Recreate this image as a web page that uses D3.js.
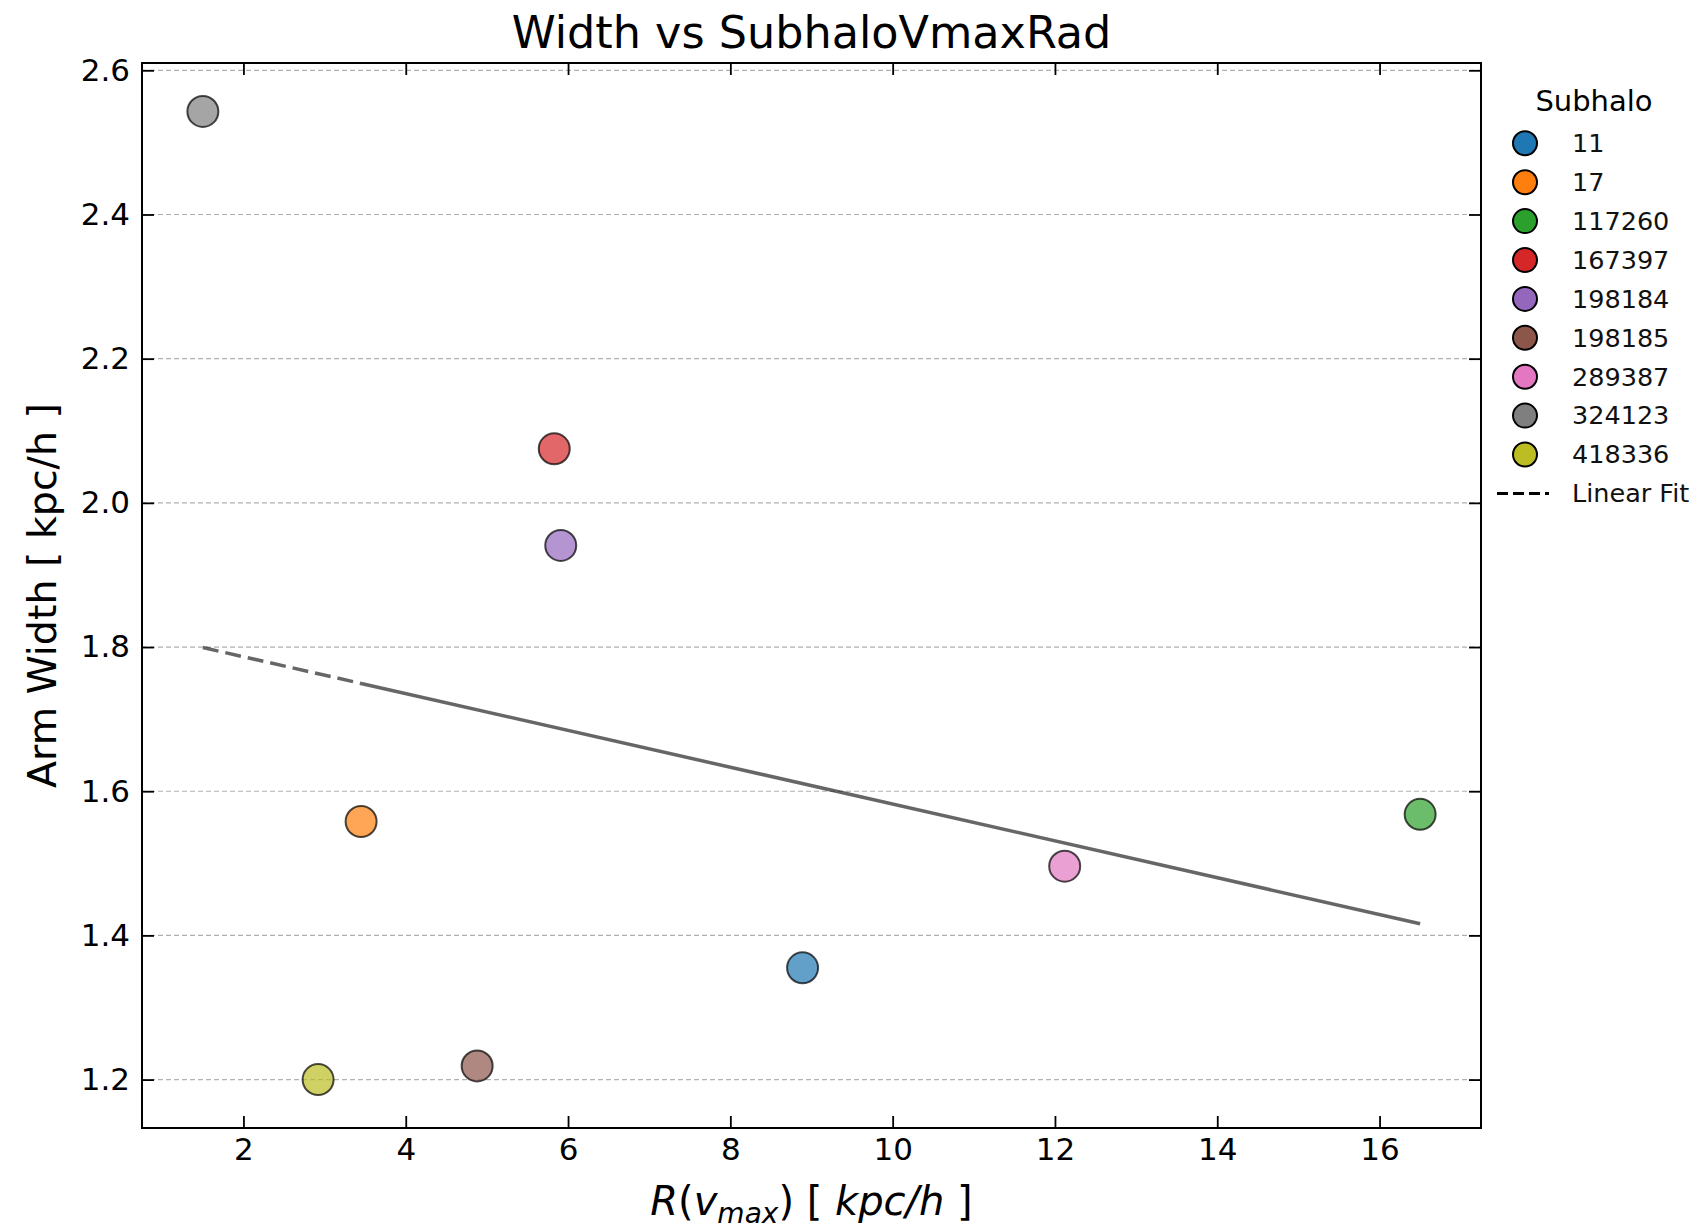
<!DOCTYPE html>
<html>
<head>
<meta charset="utf-8">
<script src="https://cdn.jsdelivr.net/npm/d3@7"></script>
<style>
  html, body { margin: 0; padding: 0; background: #fff; }
  svg { display: block; font-family: "DejaVu Sans", sans-serif; }
</style>
</head>
<body>
<svg id="chart" width="1703" height="1230"></svg>
<script>
// Subhalo IDs, their radius of peak circular velocity and measured arm width
const subhalos = ["11", "17", "117260", "167397", "198184", "198185", "289387", "324123", "418336"];
const rVmax    = [8.89, 3.45, 16.5, 5.83, 5.91, 4.88, 12.12, 1.5, 2.92];
const armWidth = [1.355, 1.558, 1.568, 2.075, 1.941, 1.219, 1.496, 2.543, 1.200];
const colors   = ["#1f77b4", "#ff7f0e", "#2ca02c", "#d62728", "#9467bd", "#8c564b", "#e377c2", "#7f7f7f", "#bcbd22"];
const xTicks   = [2, 4, 6, 8, 10, 12, 14, 16];
const yTicks   = [1.2, 1.4, 1.6, 1.8, 2.0, 2.2, 2.4, 2.6];

const svg = d3.select("#chart");
const plot = { left: 142, right: 1481, top: 63, bottom: 1128 };

// 5% padding around the data, like the default axis margins
function padded(vals) {
  const [lo, hi] = d3.extent(vals);
  const m = (hi - lo) * 0.05;
  return [lo - m, hi + m];
}
const x = d3.scaleLinear().domain(padded(rVmax)).range([plot.left, plot.right]);
const y = d3.scaleLinear().domain(padded(armWidth)).range([plot.bottom, plot.top]);

// horizontal dashed grid
svg.append("g").selectAll("line").data(yTicks).join("line")
  .attr("x1", plot.left).attr("x2", plot.right)
  .attr("y1", d => y(d)).attr("y2", d => y(d))
  .attr("stroke", "#b0b0b0").attr("stroke-width", 1.2)
  .attr("stroke-dasharray", "5,3");

// least-squares fit of width against radius
const mx = d3.mean(rVmax), my = d3.mean(armWidth);
const sxy = d3.sum(rVmax, (v, i) => (v - mx) * (armWidth[i] - my));
const sxx = d3.sum(rVmax, v => (v - mx) * (v - mx));
const slope = sxy / sxx, intercept = my - slope * mx;
const fit = v => intercept + slope * v;
const [xMin, xMax] = d3.extent(rVmax);
const fitLine = d3.line().x(d => x(d)).y(d => y(fit(d)));
// the fit is traced through the samples in table order, so beyond subhalo 17
// the dashes of several passes overlap and read as a solid stroke
const xJoin = rVmax[1];
svg.append("path")
  .attr("d", fitLine([xMin, xJoin]))
  .attr("fill", "none").attr("stroke", "#000").attr("stroke-opacity", 0.6)
  .attr("stroke-width", 3.5).attr("stroke-dasharray", "16,7");
svg.append("path")
  .attr("d", fitLine([xJoin, xMax]))
  .attr("fill", "none").attr("stroke", "#000").attr("stroke-opacity", 0.6)
  .attr("stroke-width", 3.5);

// scatter points
svg.append("g").selectAll("circle").data(subhalos).join("circle")
  .attr("cx", (d, i) => x(rVmax[i])).attr("cy", (d, i) => y(armWidth[i]))
  .attr("r", 15.5)
  .attr("fill", (d, i) => colors[i]).attr("fill-opacity", 0.7)
  .attr("stroke", "#000").attr("stroke-opacity", 0.7).attr("stroke-width", 2);

// axes with inward ticks on all four sides
const tickLen = 12;
const fmtY = d3.format(".1f");
const axB = d3.axisBottom(x).tickValues(xTicks).tickSizeInner(-tickLen).tickSizeOuter(0).tickPadding(10);
const axT = d3.axisTop(x).tickValues(xTicks).tickSizeInner(-tickLen).tickSizeOuter(0).tickFormat("");
const axL = d3.axisLeft(y).tickValues(yTicks).tickSizeInner(-tickLen).tickSizeOuter(0).tickPadding(12).tickFormat(fmtY);
const axR = d3.axisRight(y).tickValues(yTicks).tickSizeInner(-tickLen).tickSizeOuter(0).tickFormat("");

function style(g) {
  g.select(".domain").remove();
  g.selectAll(".tick line").attr("stroke", "#000").attr("stroke-width", 1.8);
  g.selectAll(".tick text").attr("fill", "#000").style("font-size", "31px").style("font-family", "DejaVu Sans");
}
svg.append("g").attr("transform", `translate(0,${plot.bottom})`).call(axB).call(style);
svg.append("g").attr("transform", `translate(0,${plot.top})`).call(axT).call(style);
svg.append("g").attr("transform", `translate(${plot.left},0)`).call(axL).call(style);
svg.append("g").attr("transform", `translate(${plot.right},0)`).call(axR).call(style);

// frame
svg.append("rect")
  .attr("x", plot.left).attr("y", plot.top)
  .attr("width", plot.right - plot.left).attr("height", plot.bottom - plot.top)
  .attr("fill", "none").attr("stroke", "#000").attr("stroke-width", 2);

// title
svg.append("text")
  .attr("x", (plot.left + plot.right) / 2).attr("y", 48)
  .attr("text-anchor", "middle").style("font-size", "44.5px")
  .text("Width vs SubhaloVmaxRad");

// x label: R(v_max) [ kpc/h ]
const xl = svg.append("text")
  .attr("x", (plot.left + plot.right) / 2).attr("y", 1215)
  .attr("text-anchor", "middle").style("font-size", "40px");
xl.append("tspan").style("font-style", "italic").text("R");
xl.append("tspan").text("(");
xl.append("tspan").style("font-style", "italic").text("v");
xl.append("tspan").style("font-style", "italic").style("font-size", "28px").attr("dy", 8).text("max");
xl.append("tspan").attr("dy", -8).text(") [ ");
xl.append("tspan").style("font-style", "italic").text("kpc/h");
xl.append("tspan").text(" ]");

// y label
svg.append("text")
  .attr("transform", `translate(56,${(plot.top + plot.bottom) / 2}) rotate(-90)`)
  .attr("text-anchor", "middle").style("font-size", "39.5px")
  .text("Arm Width [ kpc/h ]");

// legend
const leg = svg.append("g");
leg.append("text").attr("x", 1594).attr("y", 111)
  .attr("text-anchor", "middle").style("font-size", "29px").text("Subhalo");
const rowY = i => 143.3 + i * 38.9;
subhalos.forEach((name, i) => {
  leg.append("circle").attr("cx", 1525).attr("cy", rowY(i)).attr("r", 12)
    .attr("fill", colors[i]).attr("stroke", "#000").attr("stroke-width", 2);
  leg.append("text").attr("x", 1572).attr("y", rowY(i) + 8.8)
    .style("font-size", "25.5px").attr("fill", "#111").text(name);
});
const fitRow = rowY(subhalos.length);
leg.append("line").attr("x1", 1497).attr("x2", 1549).attr("y1", fitRow).attr("y2", fitRow)
  .attr("stroke", "#000").attr("stroke-width", 3).attr("stroke-dasharray", "11,5");
leg.append("text").attr("x", 1572).attr("y", fitRow + 8.8)
  .style("font-size", "25.5px").attr("fill", "#111").text("Linear Fit");
</script>
</body>
</html>
